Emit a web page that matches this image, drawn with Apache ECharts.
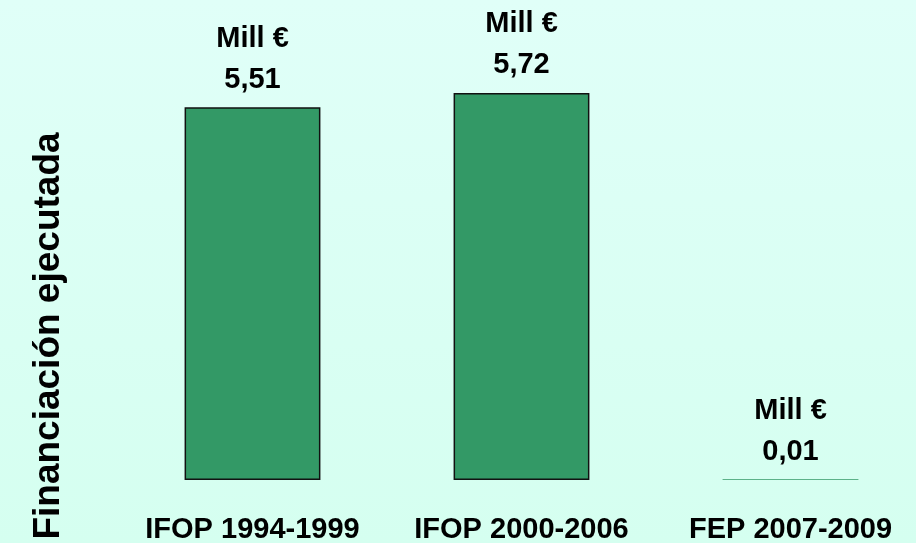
<!DOCTYPE html>
<html>
<head>
<meta charset="utf-8">
<script src="https://cdn.jsdelivr.net/npm/echarts@6/dist/echarts.min.js"></script>
<style>
html,body{margin:0;padding:0;}
#chart{width:916px;height:543px;}
</style>
</head>
<body>
<div id="chart"></div>
<script>
var categories = ['IFOP 1994-1999', 'IFOP 2000-2006', 'FEP 2007-2009'];
var values = [5.51, 5.72, 0.01];
var unitLabel = 'Mill €';
var axisTitle = 'Financiación ejecutada';

var FONT = 'Liberation Sans, Arial, Helvetica, sans-serif';
var chart = echarts.init(document.getElementById('chart'));
chart.setOption({
  backgroundColor: {
    type: 'linear', x: 0, y: 0, x2: 0, y2: 1,
    colorStops: [{offset: 0, color: '#E0FFF8'}, {offset: 1, color: '#D5FFF0'}]
  },
  animation: false,
  grid: {left: 118, right: -9, top: 74, bottom: 63, outerBoundsMode: 'none', containLabel: false},
  xAxis: {
    type: 'category',
    data: categories,
    axisLine: {show: false},
    axisTick: {show: false},
    axisLabel: {
      interval: 0,
      hideOverlap: false,
      margin: 35,
      color: '#000',
      fontFamily: FONT,
      fontWeight: 'bold',
      fontSize: 29
    }
  },
  yAxis: {
    type: 'value',
    min: 0,
    max: 6,
    show: false,
    splitLine: {show: false}
  },
  graphic: [{
    type: 'text',
    x: 49,
    y: 336,
    rotation: Math.PI / 2,
    style: {
      text: axisTitle,
      font: 'bold 37px ' + FONT,
      fill: '#000',
      textAlign: 'center',
      textVerticalAlign: 'middle'
    }
  }],
  series: [{
    type: 'bar',
    data: values.map(function (v) {
      return {value: v, itemStyle: {borderWidth: v < 0.05 ? 0 : 1.5}};
    }),
    barWidth: '50.5%',
    itemStyle: {color: '#339966', borderColor: '#111', borderWidth: 1.5},
    label: {
      show: true,
      position: 'top',
      distance: 7,
      color: '#000',
      fontFamily: FONT,
      fontWeight: 'bold',
      fontSize: 29,
      lineHeight: 41,
      formatter: function (p) {
        return unitLabel + '\n' + p.value.toFixed(2).replace('.', ',');
      }
    }
  }]
});
</script>
</body>
</html>
